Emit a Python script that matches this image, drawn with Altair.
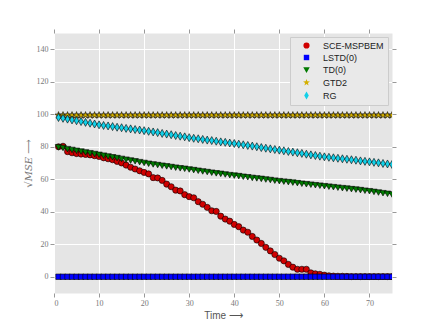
import altair as alt
import pandas as pd

time_steps = list(range(1, 76))
series_names = ["SCE-MSPBEM", "LSTD(0)", "TD(0)", "GTD2", "RG"]
series_colors = ["#d00000", "#0000ff", "#007a00", "#d4b000", "#12d0e8"]

sce = [80.0, 80.3, 77.0, 76.3, 75.8, 75.5, 75.3, 75.0, 74.5, 74.0,
       73.2, 72.6, 72.0, 71.0, 70.0, 68.7, 67.4, 66.3, 65.2, 64.2,
       63.3, 61.0, 60.8, 59.3, 57.0, 55.4, 53.3, 52.8, 50.5, 49.3,
       48.6, 46.2, 44.6, 42.7, 40.6, 40.2, 37.3, 35.5, 34.2, 32.2,
       30.8, 28.7, 27.4, 24.8, 22.6, 20.5, 18.1, 15.9, 13.7, 11.4,
       9.8, 7.6, 5.9, 4.6, 4.6, 4.6, 2.4, 1.8, 1.5, 1.0,
       0.6, 0.4, 0.3, 0.3, 0.2, 0.1, 0.1, 0.1, 0.1, 0.1,
       0.1, 0.1, 0.1, 0.1, 0.1]

lstd = [0.0, 0.0, 0.0, 0.0, 0.0, 0.0, 0.0, 0.0, 0.0, 0.0,
        0.0, 0.0, 0.0, 0.0, 0.0, 0.0, 0.0, 0.0, 0.0, 0.0,
        0.0, 0.0, 0.0, 0.0, 0.0, 0.0, 0.0, 0.0, 0.0, 0.0,
        0.0, 0.0, 0.0, 0.0, 0.0, 0.0, 0.0, 0.0, 0.0, 0.0,
        0.0, 0.0, 0.0, 0.0, 0.0, 0.0, 0.0, 0.0, 0.0, 0.0,
        0.0, 0.0, 0.0, 0.0, 0.0, 0.0, 0.0, 0.0, 0.0, 0.0,
        0.0, 0.0, 0.0, 0.0, 0.0, 0.0, 0.0, 0.0, 0.0, 0.0,
        0.0, 0.0, 0.0, 0.0, 0.0]

td = [80.0, 79.6, 78.9, 78.4, 77.9, 77.4, 76.9, 76.4, 75.9, 75.4,
      74.9, 74.4, 73.9, 73.4, 72.9, 72.4, 71.9, 71.4, 70.9, 70.4,
      69.9, 69.5, 69.1, 68.7, 68.3, 67.9, 67.5, 67.1, 66.8, 66.4,
      66.0, 65.6, 65.2, 64.8, 64.4, 64.0, 63.7, 63.3, 62.9, 62.6,
      62.3, 61.9, 61.6, 61.2, 60.9, 60.6, 60.2, 59.9, 59.5, 59.2,
      58.9, 58.6, 58.3, 58.0, 57.6, 57.3, 57.0, 56.7, 56.4, 56.1,
      55.8, 55.5, 55.2, 54.9, 54.6, 54.3, 54.0, 53.7, 53.3, 53.0,
      52.6, 52.2, 51.8, 51.4, 51.0]

gtd2 = [99.4, 99.4, 99.4, 99.4, 99.4, 99.4, 99.4, 99.4, 99.4, 99.4,
        99.4, 99.4, 99.4, 99.4, 99.4, 99.4, 99.4, 99.4, 99.4, 99.4,
        99.4, 99.4, 99.4, 99.4, 99.4, 99.4, 99.4, 99.4, 99.4, 99.4,
        99.4, 99.4, 99.4, 99.4, 99.4, 99.4, 99.4, 99.4, 99.4, 99.4,
        99.4, 99.4, 99.4, 99.4, 99.4, 99.4, 99.4, 99.4, 99.4, 99.4,
        99.4, 99.4, 99.4, 99.4, 99.4, 99.4, 99.4, 99.4, 99.4, 99.4,
        99.4, 99.4, 99.4, 99.4, 99.4, 99.4, 99.4, 99.4, 99.4, 99.4,
        99.4, 99.4, 99.4, 99.4, 99.4]

rg = [98.0, 97.5, 97.0, 96.5, 96.0, 95.5, 95.0, 94.5, 94.0, 93.5,
      93.1, 92.8, 92.4, 92.0, 91.7, 91.3, 91.0, 90.6, 90.3, 89.9,
      89.5, 89.1, 88.7, 88.2, 87.8, 87.4, 86.9, 86.5, 86.1, 85.6,
      85.2, 84.9, 84.5, 84.1, 83.8, 83.4, 83.0, 82.7, 82.3, 82.0,
      81.6, 81.2, 80.8, 80.4, 80.0, 79.5, 79.1, 78.7, 78.3, 77.9,
      77.5, 77.1, 76.7, 76.3, 75.9, 75.4, 75.0, 74.6, 74.2, 73.8,
      73.5, 73.2, 72.9, 72.6, 72.3, 72.0, 71.7, 71.3, 71.0, 70.7,
      70.4, 70.1, 69.7, 69.4, 69.1]

x_ticks = [0, 10, 20, 30, 40, 50, 60, 70]
y_ticks = [0, 20, 40, 60, 80, 100, 120, 140]

# marker outlines (unit paths; drawn with one common size)
circle_shape = "circle"
square_shape = "M-0.88,-0.88L0.88,-0.88L0.88,0.88L-0.88,0.88Z"
tri_down_shape = "M-1.05,-0.7L1.05,-0.7L0,1.1Z"
star_shape = ("M0,-1.17L0.275,-0.379L1.113,-0.362L0.445,0.145L0.688,0.947L0,0.468"
              "L-0.688,0.947L-0.445,0.145L-1.113,-0.362L-0.275,-0.379Z")
thin_diamond_shape = "M0,-1.3L0.75,0L0,1.3L-0.75,0Z"
series_shapes = [circle_shape, square_shape, tri_down_shape, star_shape, thin_diamond_shape]

rows = []
for name, vals in zip(series_names, [sce, lstd, td, gtd2, rg]):
    for t, v in zip(time_steps, vals):
        rows.append({"time": t, "value": v, "series": name})
df = pd.DataFrame(rows)

x_scale = alt.Scale(domain=[0, 75], nice=False, zero=False)
y_scale = alt.Scale(domain=[-10, 150], nice=False, zero=False)

tick_style = dict(tickSize=4, tickColor="#999999", tickWidth=1, domain=False,
                  labelFont="Liberation Serif", labelFontSize=8,
                  labelColor="#777777", labelPadding=2)

x_main = alt.X("time:Q", scale=x_scale,
               axis=alt.Axis(values=x_ticks, title="Time ⟶", titleFont="Liberation Sans",
                             titleFontSize=10, titleFontWeight="normal", titleColor="#555555",
                             titlePadding=3, grid=True, gridColor="white", gridWidth=1,
                             **tick_style))
y_main = alt.Y("value:Q", scale=y_scale,
               axis=alt.Axis(values=y_ticks, title="√MSE ⟶", titleFont="DejaVu Serif",
                             titleFontStyle="italic", titleFontSize=10,
                             titleFontWeight="normal", titleColor="#777777",
                             titlePadding=3, grid=True, gridColor="white", gridWidth=1,
                             **tick_style))

frame = alt.Chart(df).mark_point(opacity=0).encode(
    x=x_main,
    y=y_main,
)

frame2 = alt.Chart(df).mark_point(opacity=0).encode(
    x=alt.X("time:Q", scale=x_scale,
            axis=alt.Axis(orient="top", values=x_ticks, labels=False, title=None,
                          grid=False, tickSize=4, tickColor="#999999", domain=False)),
    y=alt.Y("value:Q", scale=y_scale,
            axis=alt.Axis(orient="right", values=y_ticks, labels=False, title=None,
                          grid=False, tickSize=4, tickColor="#999999", domain=False)),
)

line_layers = []
for name, col in zip(series_names, series_colors):
    line_layers.append(
        alt.Chart(df).transform_filter(alt.datum.series == name)
        .mark_line(strokeWidth=1, clip=True, color=col)
        .encode(x=alt.X("time:Q", scale=x_scale, axis=None),
                y=alt.Y("value:Q", scale=y_scale, axis=None))
    )

legend = alt.Legend(title=None, orient="top-right", offset=4,
                    fillColor="#e9e9e9", strokeColor="#cccccc", padding=4,
                    labelFont="Liberation Sans", labelFontSize=9, labelColor="#222222",
                    symbolSize=38, rowPadding=2, symbolStrokeColor="black",
                    symbolStrokeWidth=0.6, symbolOffset=8, labelOffset=12)

points = alt.Chart(df).mark_point(filled=True, opacity=1, stroke="black",
                                  strokeWidth=0.6, size=38, clip=True).encode(
    x=alt.X("time:Q", scale=x_scale, axis=None),
    y=alt.Y("value:Q", scale=y_scale, axis=None),
    fill=alt.Fill("series:N", scale=alt.Scale(domain=series_names, range=series_colors),
                  legend=legend),
    shape=alt.Shape("series:N", scale=alt.Scale(domain=series_names, range=series_shapes),
                    legend=legend),
)

chart = alt.layer(frame, frame2, *line_layers, points).resolve_axis(
    x="independent", y="independent"
).properties(
    width=338, height=260,
    autosize=alt.AutoSizeParams(type="none"),
    padding={"left": 46, "top": 25, "right": 30, "bottom": 26},
).configure_view(fill="#E5E5E5", stroke="transparent")

chart.save("out.html", embed_options={"renderer": "svg", "actions": False})
